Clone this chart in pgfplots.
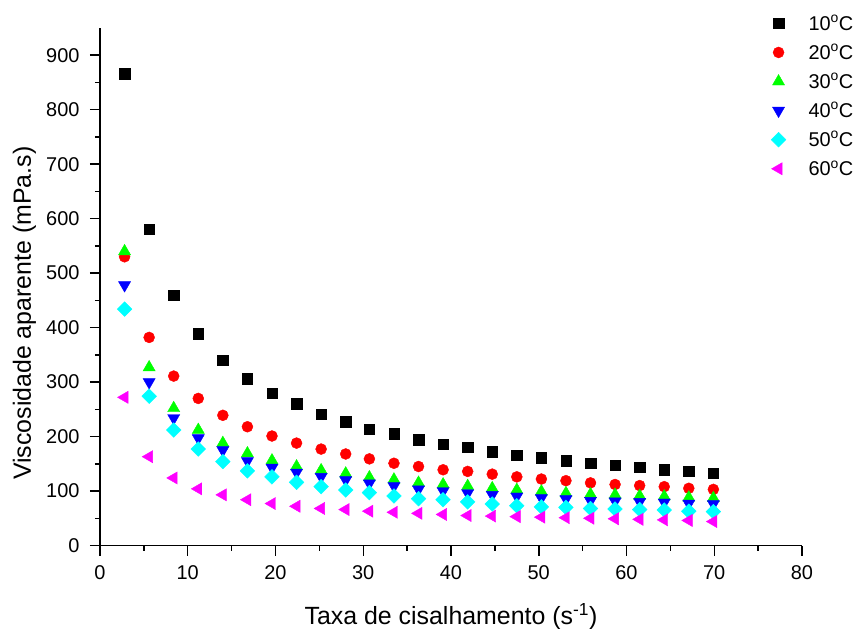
\documentclass[border=0pt]{standalone}
\usepackage{pgfplots}
\pgfplotsset{compat=1.18}
\usepackage{pgfplotstable}
\usepackage{fontspec}
\setmainfont{Liberation Sans}
\definecolor{cgreen}{RGB}{0,255,0}
\definecolor{cblue}{RGB}{0,0,255}
\definecolor{ccyan}{RGB}{0,255,255}
\definecolor{cmag}{RGB}{255,0,255}
\definecolor{cred}{RGB}{255,0,0}
\pgfplotstableread{
x t10 t20 t30 t40 t50 t60
2.8 866 530 540 478 434 272
5.6 581 382 327 300 274 163
8.4 459 311 252 234 212 124
11.2 389 270 212 197 177 104
14.0 340 239 188 175 154 93
16.8 306 218 169 155 137 84
19.6 280 201 156 143 126 77
22.4 260 188 145 134 116 72
25.2 241 177 138 126 108 68
28.0 227 168 132 120 102 66
30.7 214 159 125 114 97 63
33.5 205 151 121 109 91 61
36.3 194 145 115 103 86 59
39.1 186 139 112 100 84 57
41.9 180 136 109 96 80 55
44.7 172 131 105 93 76 54
47.5 166 126 102 90 73 53
50.3 161 122 99 87 71 52
53.1 156 119 96 85 70 51
55.9 151 115 94 82 68 50
58.7 147 112 93 81 67 49
61.5 144 110 91 80 66 48
64.3 139 108 90 79 65 47
67.1 136 105 88 77 63 46
69.9 133 103 87 76 62 44
}\datatable
\begin{document}
\begin{tikzpicture}
\path[use as bounding box] (-100bp,-83.5bp) rectangle (754bp,545.5bp);
\begin{axis}[
  at={(0,0)}, anchor=south west,
  scale only axis, width=702bp, height=517.5bp,
  xmin=0, xmax=80, ymin=0, ymax=950,
  axis lines*=left,
  axis line style={line width=1.5bp, black},
  xtick={0,10,...,80}, ytick={0,100,...,900},
  minor x tick num=1, minor y tick num=1,
  tick align=outside,
  major tick length=10bp, minor tick length=5bp,
  tick style={line width=1.5bp, black},
  /pgf/number format/assume math mode=true,
  ticklabel style={font=\fontsize{20}{24}\selectfont},
  xticklabel style={yshift=-6.5bp},
  yticklabel style={xshift=-7bp},
  xlabel={Taxa de cisalhamento (s\textsuperscript{-1})},
  ylabel={Viscosidade aparente (mPa.s)},
  label style={font=\fontsize{25}{30}\selectfont},
  xlabel style={at={(axis description cs:0.5,-0.1517)}, anchor=base},
  ylabel style={at={(axis description cs:-0.0983,0.449)}, anchor=base, rotate=0},
  legend style={draw=none, fill=none, at={(axis description cs:0.953,1.033)}, anchor=north west,
    font=\fontsize{20}{24}\selectfont, row sep=8.6bp, inner sep=2bp},
  legend cell align=left,
  legend image code/.code={\draw[#1] plot coordinates {(0.2cm,0cm)}; \path (0cm,0cm) (1.18cm,0cm);},
  clip=false,
]
\addplot[only marks, mark=square*, mark size=5.2bp, mark options={draw=black, fill=black}] table[x=x,y=t10] {\datatable};
\addlegendentry{10\textsuperscript{o}C}
\addplot[only marks, mark=*, mark size=5.5bp, mark options={draw=cred, fill=cred}] table[x=x,y=t20] {\datatable};
\addlegendentry{20\textsuperscript{o}C}
\addplot[only marks, mark=triangle*, mark size=7bp, mark options={draw=cgreen, fill=cgreen}] table[x=x,y=t30] {\datatable};
\addlegendentry{30\textsuperscript{o}C}
\addplot[only marks, mark=triangle*, mark size=7bp, mark options={draw=cblue, fill=cblue, rotate=180}] table[x=x,y=t40] {\datatable};
\addlegendentry{40\textsuperscript{o}C}
\addplot[only marks, mark=square*, mark size=5.2bp, mark options={draw=ccyan, fill=ccyan, rotate=45}] table[x=x,y=t50] {\datatable};
\addlegendentry{50\textsuperscript{o}C}
\addplot[only marks, mark=triangle*, mark size=7bp, mark options={draw=cmag, fill=cmag, rotate=90}] table[x=x,y=t60] {\datatable};
\addlegendentry{60\textsuperscript{o}C}
\end{axis}
\end{tikzpicture}
\end{document}
